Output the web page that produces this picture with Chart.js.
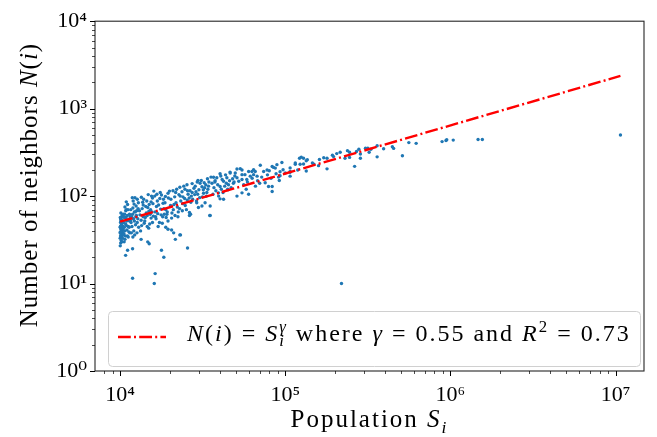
<!DOCTYPE html>
<html><head><meta charset="utf-8">
<script src="https://cdn.jsdelivr.net/npm/chart.js@4/dist/chart.umd.min.js"></script>
<style>html,body{margin:0;padding:0;background:#fff;}#wrap{width:657px;height:437px;}</style>
</head><body><div id="wrap"><canvas id="c" width="657" height="437"></canvas></div>
<script>
// [population S_i, number of neighbors N(i)]
const cities10k = [[10020,27],[10080,29],[10150,31],[10010,33],[10230,34],[10060,35],[10310,36],[10120,37],[10400,38],[10040,39],[10190,40],[10350,41],[10090,42],[10270,43],[10010,44],[10450,45],[10130,46],[10220,48],[10060,50],[10380,52],[10170,54],[10030,57],[10290,60],[10110,64],[10240,30],[10330,33],[10470,36],[10160,39],[10420,42],[10200,47],[10500,50],[10070,55],[10000,38],[10050,45],[10100,52],[10350,58],[10450,62]];
const cities11k = [[10600,44],[10700,32],[10850,57],[10550,37],[10900,70],[11000,41],[10650,62],[11200,45],[10750,35],[11100,80],[10950,52],[11300,39],[10600,57],[11050,60],[11400,62],[10800,48],[11150,70],[10700,75],[11250,54],[10900,86],[11450,38],[11350,44],[10580,30],[11080,35],[11500,58],[10820,68],[10800,21],[11100,24],[10650,40],[11200,34],[10950,46],[11400,52]];
const cities12k = [[11600,70],[11800,45],[12000,88],[12200,52],[11700,38],[12500,77],[11900,62],[12300,96],[12800,55],[11650,50],[12100,40],[12600,68],[12900,84],[11750,58],[12400,47],[12700,92],[11950,73],[12250,36],[12550,60],[11850,96],[12950,44],[12650,38],[12050,55],[12350,66],[12850,72],[12150,81],[11550,53],[12450,58],[11900,11.5],[11900,25],[11950,34],[12200,66],[12700,50]];
const cities13k = [[13200,61],[13500,46],[13800,79],[14100,52],[14500,88],[14900,43],[15300,70],[15700,95],[13300,40],[13700,85],[14200,57],[14700,74],[15100,48],[15600,66],[13400,53],[13900,92],[14400,64],[14800,104],[15400,56],[13600,72],[15800,82],[14600,45],[13100,68],[14000,49],[15000,80],[15900,59],[13450,97],[14300,76],[15200,62],[14950,67],[15500,100],[16000,114],[13400,32],[14700,30],[15000,28.5],[15700,50],[13800,58],[14600,60],[15400,86],[16100,10],[16300,13]];
const cities16k = [[16300,66],[16800,88],[17300,50],[17800,103],[18400,72],[19000,57],[19600,95],[16500,55],[17100,79],[17700,61],[18300,92],[18900,70],[19500,108],[16200,100],[16900,63],[17500,110],[18100,58],[18700,84],[19300,66],[19900,114],[16600,76],[17400,94],[18200,83],[19200,62],[16400,58],[17600,71],[18800,99],[17000,45],[18000,49],[19500,52],[16700,105],[18500,62],[17800,24],[18400,20],[19500,41.7],[20500,41],[18900,44]];
const cities20k = [[20300,92],[21000,70],[21700,110],[22400,58],[23100,100],[23900,82],[24700,120],[25500,90],[20600,64],[21400,98],[22200,75],[23000,126],[23800,68],[24600,94],[25400,135],[20900,115],[21800,84],[22700,104],[23700,112],[24800,78],[25800,105],[20500,56],[21200,80],[22000,120],[23300,88],[24300,130],[25200,70],[20200,78],[22500,66],[24000,98],[21500,60],[22900,72],[25600,115],[21600,32],[23000,36],[23200,36],[21100,38],[25600,25.5],[26300,65],[26300,60],[26700,62]];
const cities26k = [[26500,115],[27500,92],[28500,130],[29500,105],[30500,140],[31500,98],[32500,125],[33500,110],[34500,145],[27000,100],[28000,123],[29000,88],[30000,118],[31000,151],[32000,108],[33000,135],[34000,120],[27300,139],[28300,104],[29300,145],[30300,96],[31300,128],[32300,142],[33300,100],[34300,130],[26800,85],[29600,151],[31900,118],[29100,84],[29800,74],[32700,84],[31300,77],[35100,77],[35100,60],[34900,60],[27300,110],[28800,112],[33800,158],[26200,95]];
const cities35k = [[35500,165],[36800,164],[37600,150],[38500,162],[40300,180],[39000,135],[40300,129],[42300,148],[44300,162],[45300,135],[46400,184],[39400,109],[40300,93],[42300,92],[36000,140],[37000,125],[38000,115],[41000,120],[43000,130],[44000,140],[46000,150],[48000,158],[49000,145],[36500,105],[39500,100],[42000,110],[45000,118],[47000,125],[40700,170],[46300,188],[49500,170],[48500,140],[41500,155],[43500,175],[37500,145],[44800,120]];
const cities50k = [[49800,184],[51000,162],[52300,148],[54700,199],[54700,176],[54700,155],[57000,176],[58500,155],[60000,191],[61400,169],[62800,191],[64300,176],[65800,191],[67500,169],[70600,225],[74000,191],[77600,199],[83300,218],[87000,209],[89000,229],[95400,242],[75600,142],[79200,129],[83300,129],[83300,113],[91000,165],[100000,184],[51000,100],[54700,109],[60000,105],[51000,204],[53400,206],[64300,200],[85000,213],[56000,135],[59000,145],[63000,160],[68000,150],[72000,165],[78000,175],[82000,160],[88000,180],[93000,190],[97000,200],[66000,130],[70000,140],[58000,120],[80000,195],[92000,151],[93000,171]];
const cities100k = [[107000,210],[107000,187],[107000,169],[107000,191],[115000,231],[115000,239],[122000,271],[123000,231],[129000,233],[129000,271],[119000,199],[125000,279],[134000,254],[136000,261],[134000,194],[146000,239],[149000,231],[159000,223],[161000,262],[171000,274],[179000,271],[179000,205],[193000,294],[196000,283],[205000,306],[215000,317],[230000,271],[238000,331],[245000,317],[245000,277],[263000,219],[270000,324],[279000,344],[285000,303],[285000,271],[306000,352],[316000,352],[322000,317],[330000,344],[360000,376],[360000,281],[394000,348],[445000,367],[453000,351],[512000,289],[560000,409],[620000,401],[890000,420],[940000,433],[950000,441],[1040000,437],[1470000,444],[1560000,444],[10700000,500],[219000,10]];

// fitted power law N(i) = c * S_i^0.55
const fitPopulation = [10000, 10700000];
const fitNeighbors = [51, 2370];

const xTickValues = [1e4, 1e5, 1e6, 1e7];
const yTickValues = [1e0, 1e1, 1e2, 1e3, 1e4];
const xRange = [Math.pow(10, 3.848), Math.pow(10, 7.172)];
const yRange = [1, 10000];

const xTitle = [{t:'Population '},{t:'S',it:true},{t:'i',it:true,sub:true}];
const yTitle = [{t:'Number of neighbors '},{t:'N',it:true},{t:'('},{t:'i',it:true},{t:')'}];
const legendSegments = [{t:'N',it:true},{t:'('},{t:'i',it:true},{t:') = '},{t:'S',it:true},{t:'i',it:true,sub:true},{t:'γ',it:true,sup:true},{t:' where '},{t:'γ',it:true},{t:' = 0.55 and '},{t:'R',it:true},{t:'2',sup:true},{t:' = 0.73'}];

const FONT = '"Liberation Serif", "DejaVu Serif", serif';
const allCities = [].concat(cities10k, cities11k, cities12k, cities13k, cities16k, cities20k, cities26k, cities35k, cities50k, cities100k);
const SUP = '⁰¹²³⁴⁵⁶⁷⁸⁹';
const powLabel = v => { const e = Math.round(Math.log10(v)); return '10' + String(e).split('').map(d => SUP[+d]).join(''); };

function setFont(ctx, s, size, ls) {
  const fs = (s.sub || s.sup) ? size * 0.7 : size;
  ctx.font = (s.it ? 'italic ' : '') + fs + 'px ' + FONT;
  ctx.letterSpacing = ls + 'px';
}
function segWidth(ctx, segs, size, ls) {
  let w = 0, lastBase = 0;
  segs.forEach((s, i) => {
    setFont(ctx, s, size, ls);
    const mw = ctx.measureText(s.t).width;
    if (s.sup && i > 0 && segs[i - 1].sub) { w = Math.max(w, lastBase + mw); return; }
    if (s.sub) lastBase = w;
    w += mw;
  });
  return w;
}
function drawSegs(ctx, segs, x, y, size, ls) {
  let cx = x, lastBase = x;
  ctx.textBaseline = 'alphabetic';
  ctx.textAlign = 'left';
  segs.forEach((s, i) => {
    setFont(ctx, s, size, ls);
    let dy = 0;
    if (s.sub) dy = size * 0.22;
    if (s.sup) dy = -size * 0.38;
    let px = cx;
    if (s.sup && i > 0 && segs[i - 1].sub) px = lastBase;
    if (s.sub) lastBase = cx;
    ctx.fillText(s.t, px, y + dy);
    cx = Math.max(cx, px + ctx.measureText(s.t).width);
  });
  ctx.letterSpacing = '0px';
}

const decor = {
  id: 'decor',
  afterDatasetsDraw(chart) {
    const ctx = chart.ctx, a = chart.chartArea;
    const xs = chart.scales.x, ys = chart.scales.y;
    ctx.save();
    ctx.strokeStyle = '#262626'; ctx.lineWidth = 1.1; ctx.setLineDash([]);
    ctx.strokeRect(a.left, a.top, a.right - a.left, a.bottom - a.top);
    ctx.strokeStyle = '#000';
    const drawTicks = (scale, lo, hi, horiz) => {
      for (let e = Math.floor(Math.log10(lo)); e <= Math.ceil(Math.log10(hi)); e++) {
        for (let n = 1; n <= 9; n++) {
          const v = n * Math.pow(10, e);
          if (v < lo * 0.999 || v > hi * 1.001) continue;
          const p = Math.round(scale.getPixelForValue(v)) + 0.5;
          const len = n === 1 ? 5 : 3;
          ctx.lineWidth = n === 1 ? 1 : 0.7;
          ctx.beginPath();
          if (horiz) { ctx.moveTo(p, a.bottom); ctx.lineTo(p, a.bottom + len); }
          else { ctx.moveTo(a.left, p); ctx.lineTo(a.left - len, p); }
          ctx.stroke();
        }
      }
    };
    drawTicks(xs, xRange[0], xRange[1], true);
    drawTicks(ys, yRange[0], yRange[1], false);
    // legend
    const bx = 108, by = 311, bw = 532, bh = 55;
    ctx.beginPath(); ctx.roundRect(bx + 0.5, by + 0.5, bw, bh, 4);
    ctx.fillStyle = 'rgba(255,255,255,0.85)'; ctx.fill();
    ctx.strokeStyle = '#d0d0d0'; ctx.lineWidth = 1; ctx.stroke();
    const ds = chart.data.datasets[0];
    ctx.strokeStyle = ds.borderColor; ctx.lineWidth = ds.borderWidth; ctx.setLineDash(ds.borderDash);
    ctx.beginPath(); ctx.moveTo(118, 337); ctx.lineTo(166, 337); ctx.stroke();
    ctx.setLineDash([]);
    ctx.fillStyle = '#000';
    drawSegs(ctx, legendSegments, 187, 341, 24, 2);
    // axis titles
    const ts = 25;
    const wx = segWidth(ctx, xTitle, ts, 2);
    drawSegs(ctx, xTitle, (a.left + a.right) / 2 - wx / 2, 427, ts, 2);
    const wy = segWidth(ctx, yTitle, ts, 1.0);
    ctx.translate(37, 185);
    ctx.rotate(-Math.PI / 2);
    drawSegs(ctx, yTitle, -wy / 2, 0, ts, 1.0);
    ctx.restore();
  }
};

new Chart(document.getElementById('c'), {
  type: 'scatter',
  data: {
    datasets: [
      {
        type: 'line',
        label: 'N(i) = S_i^γ where γ = 0.55 and R² = 0.73',
        data: fitPopulation.map((p, i) => ({x: p, y: fitNeighbors[i]})),
        borderColor: '#ff0000', borderWidth: 2.4, borderDash: [12.8, 3.2, 2, 3.2],
        pointRadius: 0, fill: false, order: 0
      },
      {
        label: 'cities',
        data: allCities.map(c => ({x: c[0], y: c[1]})),
        backgroundColor: '#1f77b4', borderWidth: 0, pointRadius: 1.7, order: 1
      }
    ]
  },
  options: {
    responsive: false, animation: false, devicePixelRatio: 1,
    layout: {padding: {left: 0, top: 19, right: 13, bottom: 0}},
    plugins: {legend: {display: false}, tooltip: {enabled: false}},
    scales: {
      x: {
        type: 'logarithmic', min: xRange[0], max: xRange[1],
        afterBuildTicks: s => { s.ticks = xTickValues.map(v => ({value: v, major: true})); },
        afterFit: s => { s.height = 66; },
        grid: {display: false, drawTicks: false}, border: {display: false},
        ticks: {callback: v => powLabel(v), font: {family: FONT, size: 22}, color: '#000', padding: 11, autoSkip: false, maxRotation: 0}
      },
      y: {
        type: 'logarithmic', min: yRange[0], max: yRange[1],
        afterBuildTicks: s => { s.ticks = yTickValues.map(v => ({value: v, major: true})); },
        afterFit: s => { s.width = 95; },
        grid: {display: false, drawTicks: false}, border: {display: false},
        ticks: {callback: v => powLabel(v), font: {family: FONT, size: 22}, color: '#000', padding: 8, autoSkip: false}
      }
    }
  },
  plugins: [decor]
});
</script></body></html>
